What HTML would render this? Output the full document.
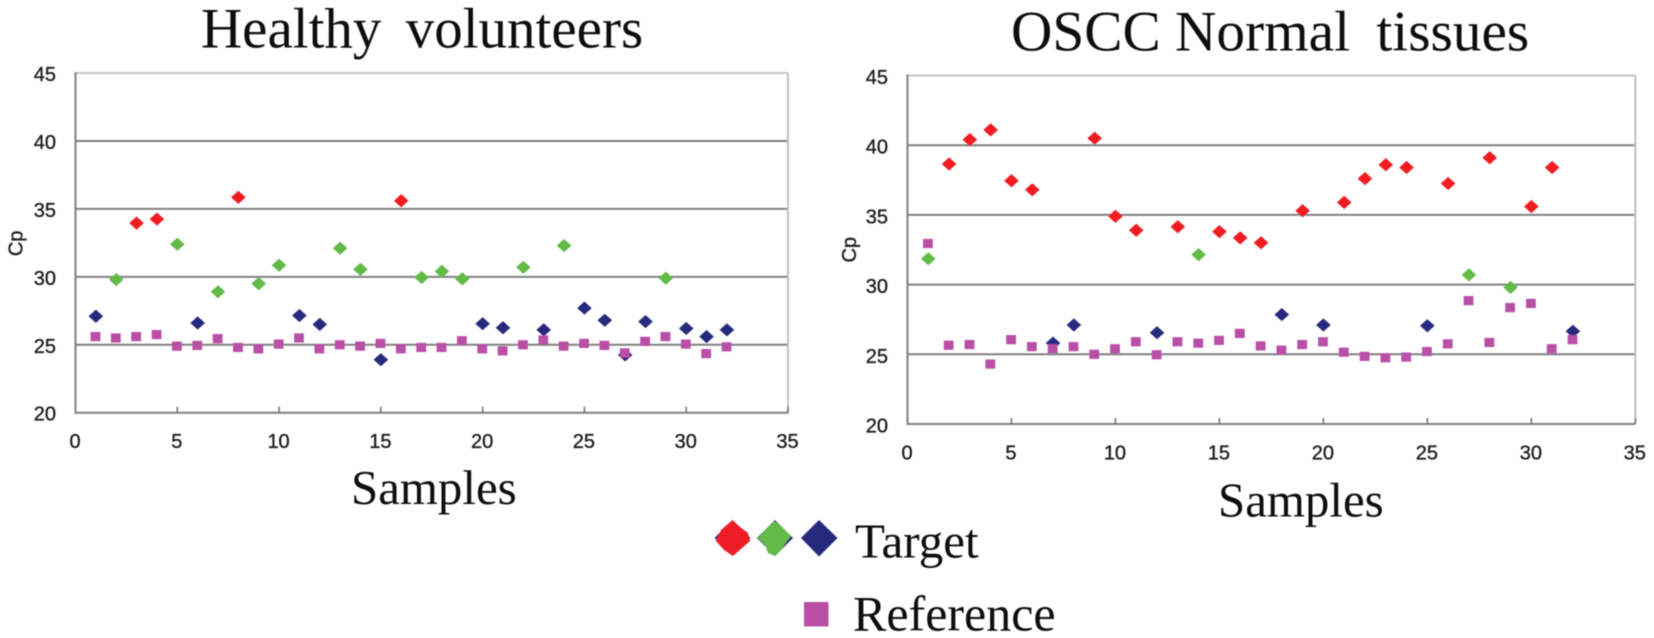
<!DOCTYPE html>
<html lang="en">
<head>
<meta charset="utf-8">
<title>Healthy volunteers vs OSCC Normal tissues</title>
<style>
html,body{margin:0;padding:0;background:#fff;width:1654px;height:638px;overflow:hidden}
svg{display:block}
.serif{font-family:"Liberation Serif",serif;fill:#0a0a0a}
.sans{font-family:"Liberation Sans",sans-serif;fill:#1c1c1c;stroke:#1c1c1c;stroke-width:.35}
</style>
</head>
<body>
<svg id="figure" xmlns="http://www.w3.org/2000/svg" width="1654" height="638" viewBox="0 0 1654 638">
  <defs>
    <filter id="soft" x="-5%" y="-5%" width="110%" height="110%"><feGaussianBlur stdDeviation="0.45"/></filter>
  </defs>
  <rect width="1654" height="638" fill="#ffffff"/>
  <g filter="url(#soft)">
    <text class="serif" x="201" y="47.5" font-size="57">Healthy <tspan dx="10">volunteers</tspan></text>
    <text class="serif" x="1011" y="50.5" font-size="57.3">OSCC Normal <tspan dx="12">tissues</tspan></text>
    <g id="left-chart"></g>
    <g id="right-chart"></g>
    <text class="serif" x="351" y="504" font-size="48.9">Samples</text>
    <text class="serif" x="1218" y="516.5" font-size="48.9">Samples</text>
    <g>
      <polygon points="732.5,520 750.5,538 732.5,556 714.5,538" fill="#262a7c"/>
      <polygon points="732.5,520 740,527 748,533 750,541 742,548 733,556 724,550 716,541 721,530" fill="#ee1c25"/>
      <polygon points="775,520 793,538 775,556 757,538" fill="#262a7c"/>
      <polygon points="775,521 783,528 791,536 785,544 781,550 775,556 768,553 765,545 758,538 767,528" fill="#62bb46"/>
      <polygon points="819,520 837.5,538 819,556.5 801,538" fill="#262a7c"/>
      <text class="serif" x="855" y="557.5" font-size="49">Target</text>
      <rect x="804" y="602" width="24.5" height="24.5" fill="#b84fa5"/>
      <text class="serif" x="853" y="630.5" font-size="50">Reference</text>
    </g>
  </g>
</svg>
<script>
const xTicks = [0, 5, 10, 15, 20, 25, 30, 35];
const yTicks = [20, 25, 30, 35, 40, 45];
const samples = [1,2,3,4,5,6,7,8,9,10,11,12,13,14,15,16,17,18,19,20,21,22,23,24,25,26,27,28,29,30,31,32];

const healthyTarget = [27.1,29.8,33.95,34.25,32.4,26.6,28.9,35.85,29.5,30.85,27.15,26.5,32.1,30.55,23.9,35.6,29.95,30.4,29.85,26.55,26.25,30.7,26.1,32.3,27.7,26.8,24.25,26.7,29.9,26.2,25.6,26.1];
const healthyClass = ['navy','green','red','red','green','navy','green','red','green','green','navy','navy','green','green','navy','red','green','green','green','navy','navy','green','navy','green','navy','navy','navy','navy','green','navy','navy','navy'];
const healthyReference = [25.6,25.5,25.6,25.75,24.9,24.95,25.45,24.8,24.7,25.05,25.5,24.7,25.0,24.9,25.1,24.7,24.8,24.8,25.3,24.7,24.55,25.0,25.35,24.9,25.1,24.95,24.4,25.25,25.6,25.05,24.35,24.85];

const osccTarget = [31.85,38.65,40.4,41.1,37.45,36.8,25.8,27.1,40.5,34.9,33.9,26.55,34.15,32.15,33.8,33.35,33.0,27.85,35.3,27.1,35.9,37.6,38.6,38.4,27.05,37.25,30.7,39.1,29.8,35.6,38.4,26.65];
const osccClass = ['green','red','red','red','red','red','navy','navy','red','red','red','navy','red','green','red','red','red','navy','red','navy','red','red','red','red','navy','red','green','red','green','red','red','navy'];
const osccReference = [32.95,25.65,25.7,24.3,26.05,25.55,25.4,25.55,25.0,25.4,25.9,24.97,25.9,25.8,26.0,26.5,25.6,25.3,25.7,25.9,25.15,24.85,24.75,24.8,25.2,25.75,28.85,25.85,28.35,28.65,25.4,26.05];

const classColor = {red:'#f01c24', green:'#62bb46', navy:'#262a7c'};
const NS = 'http://www.w3.org/2000/svg';

function node(parent, tag, attrs) {
  const el = document.createElementNS(NS, tag);
  for (const k in attrs) el.setAttribute(k, attrs[k]);
  parent.appendChild(el);
  return el;
}

function drawChart(rootId, box, target, classes, reference) {
  const root = document.getElementById(rootId);
  const xScale = v => box.left + (v - 0) / 35 * (box.right - box.left);
  const yScale = v => box.bottom - (v - 20) / 25 * (box.bottom - box.top);

  yTicks.forEach(t => {
    const y = yScale(t);
    if (t > 20) {
      const line = node(root, 'line', {x1: box.left, x2: box.right, y1: y, y2: y, stroke: t === 45 ? '#c6c6c6' : '#808080', 'stroke-width': 2});
      
      
    }
    const label = node(root, 'text', {x: box.left - 19.5, y: y + box.yLabelDrop, 'text-anchor': 'end', 'font-size': 20, class: 'sans'});
    label.textContent = t;
    
    
  });

  const rightEdge = node(root, 'line', {x1: box.right, x2: box.right, y1: box.top, y2: box.bottom, stroke: '#c0c0c0', 'stroke-width': 2});
  
  

  const yAxis = node(root, 'line', {x1: box.left, x2: box.left, y1: box.top - 1, y2: box.bottom + 1, stroke: '#808080', 'stroke-width': 2});
  
  

  const xAxis = node(root, 'line', {x1: box.left, x2: box.right, y1: box.bottom, y2: box.bottom, stroke: '#808080', 'stroke-width': 2});
  
  

  xTicks.forEach(t => {
    const x = xScale(t);
    if (t > 0) {
      const tick = node(root, 'line', {x1: x, x2: x, y1: box.bottom - 6, y2: box.bottom, stroke: '#707070', 'stroke-width': 1.5});
      
      
    }
    const label = node(root, 'text', {x: x - 0.5, y: box.bottom + 35.5, 'text-anchor': 'middle', 'font-size': 20, class: 'sans'});
    label.textContent = t;
    
    
  });

  const cy = (box.top + box.bottom) / 2 + box.labelShift;
  const yTitle = node(root, 'text', {x: box.left - box.titleGap, y: cy, 'text-anchor': 'middle', 'font-size': 20, class: 'sans', transform: 'rotate(-90 ' + (box.left - box.titleGap) + ' ' + cy + ')'});
  yTitle.textContent = 'Cp';
  
  

  samples.forEach((s, i) => {
    const x = xScale(s);
    const y = yScale(target[i]);
    const d = node(root, 'polygon', {points: (x) + ',' + (y - 6.6) + ' ' + (x + 7.3) + ',' + y + ' ' + (x) + ',' + (y + 6.6) + ' ' + (x - 7.3) + ',' + y, fill: classColor[classes[i]]});
    
    
  });

  samples.forEach((s, i) => {
    const x = xScale(s) - 0.4;
    const y = yScale(reference[i]);
    const r = node(root, 'rect', {x: x - 4.9, y: y - 4.6, width: 9.8, height: 9.2, fill: '#b94fa6'});
    
    
  });
}

drawChart('left-chart', {left: 75.5, right: 788, top: 73, bottom: 412.7, labelShift: 0.5, titleGap: 53, yLabelDrop: 8}, healthyTarget, healthyClass, healthyReference);
drawChart('right-chart', {left: 907.5, right: 1635.3, top: 75.5, bottom: 424, labelShift: 0, titleGap: 51.5, yLabelDrop: 8.5}, osccTarget, osccClass, osccReference);
</script>
</body>
</html>
